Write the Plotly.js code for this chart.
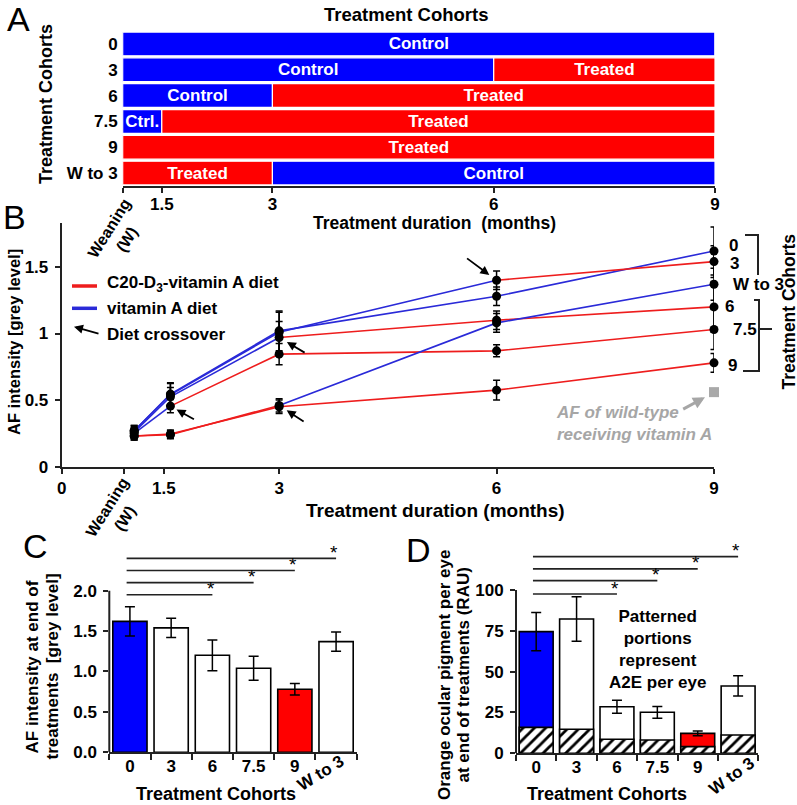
<!DOCTYPE html>
<html><head><meta charset="utf-8">
<script src="https://cdn.plot.ly/plotly-3.0.1.min.js"></script>
<style>html,body{margin:0;padding:0;background:#fff}#chart{width:797px;height:805px}</style>
</head><body><div id="chart"></div>
<script>
// ================= DATA =================
const cohorts = ['0', '3', '6', '7.5', '9', 'W to 3'];

// Panel A – diet schedule (treatment duration, months)
const weaningMonth = 0.97;
const endMonth = 9;
const switchMonth = [9, 6, 3, 1.5, 9, 3];            // month where the first diet ends
const firstDiet = ['Control', 'Control', 'Control', 'Control', 'Treated', 'Treated'];
const firstLabel = ['Control', 'Control', 'Control', 'Ctrl.', 'Treated', 'Treated'];
const secondLabel = ['', 'Treated', 'Treated', 'Treated', '', 'Control'];

// Panel B – AF intensity over time
const timePoints = [1.0, 1.5, 3, 6, 9];
const afCohort0  = [0.27, 0.545, 1.02, 1.28, 1.62];
const afCohort3  = [0.27, 0.54, 1.01, 1.40, 1.54];
const afCohort6  = [0.26, 0.525, 0.97, 1.10, 1.20];
const afCohort75 = [0.25, 0.455, 0.845, 0.87, 1.03];
const afCohort9  = [0.23, 0.245, 0.45, 0.575, 0.78];
const afCohortW3 = [0.23, 0.24, 0.46, 1.08, 1.37];
const errCohort0  = [0.04, 0.08, 0.15, 0.07, 0.18];
const errCohort3  = [0.04, 0.09, 0.15, 0.07, 0.12];
const errCohort6  = [0.04, 0.07, 0.12, 0.07, 0.19];
const errCohort75 = [0.04, 0.05, 0.08, 0.045, 0.15];
const errCohort9  = [0.03, 0.03, 0.05, 0.075, 0.07];
const errCohortW3 = [0.03, 0.03, 0.05, 0.07, 0.12];
const wildTypeAF = 0.56;

// Panel C – AF at end of treatments
const afEnd    = [1.62, 1.54, 1.20, 1.04, 0.78, 1.37];
const afEndErr = [0.18, 0.12, 0.19, 0.15, 0.07, 0.12];

// Panel D – orange ocular pigment per eye
const pigmentTotal = [74.5, 82.2, 28.5, 25.1, 12.2, 41.2];
const pigmentErr   = [11.7, 13.6, 4.0, 3.6, 1.4, 6.2];
const a2ePerEye    = [15.9, 14.7, 8.6, 8.1, 4.1, 11.2];

const sigComparisons = [[0, 2], [0, 3], [0, 4], [0, 5]];

// ================= STYLE =================
const W = 797, H = 805;
const FONT = 'Liberation Sans, Arial, Helvetica, sans-serif';
const BLUE = '#0000ff', RED = '#ff0000';
const LBLUE = '#2a2ad8', LRED = '#ee1d1d';
const AX = '#222';
const fx = v => v / W, fy = v => 1 - v / H;
const bold = (s) => ({family: FONT, size: s, color: '#000', weight: 'bold'});
const dietFill = d => d === 'Control' ? BLUE : RED;
const dietLine = d => d === 'Control' ? LBLUE : LRED;
const otherDiet = d => d === 'Control' ? 'Treated' : 'Control';
const idx = cohorts.map((c, i) => i);

const traces = [];

// ---- Panel A bars
traces.push({
  type: 'bar', orientation: 'h', xaxis: 'x', yaxis: 'y',
  y: cohorts, base: cohorts.map(() => weaningMonth),
  x: switchMonth.map(s => s - weaningMonth),
  marker: {color: firstDiet.map(dietFill), line: {color: '#fff', width: 1.2}},
  text: firstLabel, textposition: 'inside', insidetextanchor: 'middle',
  constraintext: 'none', textangle: 0,
  textfont: {family: FONT, size: 17, color: '#fff', weight: 'bold'},
  width: 0.92, hoverinfo: 'skip', showlegend: false
});
traces.push({
  type: 'bar', orientation: 'h', xaxis: 'x', yaxis: 'y',
  y: cohorts, base: switchMonth,
  x: switchMonth.map(s => endMonth - s),
  marker: {color: firstDiet.map(d => dietFill(otherDiet(d))), line: {color: '#fff', width: 1.2}},
  text: secondLabel, textposition: 'inside', insidetextanchor: 'middle',
  constraintext: 'none', textangle: 0,
  textfont: {family: FONT, size: 17, color: '#fff', weight: 'bold'},
  width: 0.92, hoverinfo: 'skip', showlegend: false
});

// ---- Panel B lines
const afSeries = [afCohort0, afCohort3, afCohort6, afCohort75, afCohort9, afCohortW3];
const afErrors = [errCohort0, errCohort3, errCohort6, errCohort75, errCohort9, errCohortW3];
afSeries.forEach((vals, c) => {
  const k = timePoints.indexOf(switchMonth[c]);
  traces.push({type: 'scatter', mode: 'lines', xaxis: 'x2', yaxis: 'y2',
    x: timePoints.slice(0, k + 1), y: vals.slice(0, k + 1),
    line: {color: dietLine(firstDiet[c]), width: 1.6}, hoverinfo: 'skip', showlegend: false, cliponaxis: false});
  if (k < timePoints.length - 1) {
    traces.push({type: 'scatter', mode: 'lines', xaxis: 'x2', yaxis: 'y2',
      x: timePoints.slice(k), y: vals.slice(k),
      line: {color: dietLine(otherDiet(firstDiet[c])), width: 1.6}, hoverinfo: 'skip', showlegend: false, cliponaxis: false});
  }
});
afSeries.forEach((vals, c) => {
  traces.push({type: 'scatter', mode: 'markers', xaxis: 'x2', yaxis: 'y2',
    x: timePoints, y: vals,
    marker: {color: '#000', size: 9, symbol: 'circle'},
    error_y: {type: 'data', array: afErrors[c], color: '#000', thickness: 1.5, width: 3.5},
    hoverinfo: 'skip', showlegend: false, cliponaxis: false});
});
traces.push({type: 'scatter', mode: 'markers', xaxis: 'x2', yaxis: 'y2',
  x: [endMonth], y: [wildTypeAF], marker: {color: '#a9a9a9', size: 10, symbol: 'square'},
  hoverinfo: 'skip', showlegend: false, cliponaxis: false});

// ---- Panel C bars
traces.push({type: 'bar', xaxis: 'x3', yaxis: 'y3', x: idx, y: afEnd, width: 0.83,
  marker: {color: idx.map(i => i === 0 ? BLUE : (i === 4 ? RED : '#fff')), line: {color: '#000', width: 1.6}},
  error_y: {type: 'data', array: afEndErr, color: '#000', thickness: 1.5, width: 5},
  hoverinfo: 'skip', showlegend: false});

// ---- Panel D bars
traces.push({type: 'bar', xaxis: 'x4', yaxis: 'y4', x: idx, y: pigmentTotal, width: 0.84,
  marker: {color: idx.map(i => i === 0 ? BLUE : (i === 4 ? RED : '#fff')), line: {color: '#000', width: 1.6}},
  error_y: {type: 'data', array: pigmentErr, color: '#000', thickness: 1.5, width: 5},
  hoverinfo: 'skip', showlegend: false});
traces.push({type: 'bar', xaxis: 'x4', yaxis: 'y4', x: idx, y: a2ePerEye, width: 0.84,
  marker: {color: '#fff', line: {color: '#000', width: 1.6},
    pattern: {shape: '/', fgcolor: '#000', bgcolor: '#fff', size: 8, solidity: 0.35}},
  hoverinfo: 'skip', showlegend: false});

// ================= LAYOUT =================
const shapes = [];
const annotations = [];
const ann = (text, x, y, o = {}) => annotations.push(Object.assign({
  text, x: fx(x), y: fy(y), xref: 'paper', yref: 'paper', showarrow: false,
  xanchor: 'center', yanchor: 'middle', font: bold(17)}, o));
const hline = (x0, y0, x1, y1, col = AX, w = 2) => shapes.push({type: 'line', xref: 'paper', yref: 'paper',
  x0: fx(x0), y0: fy(y0), x1: fx(x1), y1: fy(y1), line: {color: col, width: w}});

// panel letters
[['A', 18, 19], ['B', 15, 217], ['C', 35, 546], ['D', 418, 550]].forEach(([t, x, y]) =>
  ann(t, x, y, {font: {family: FONT, size: 34, color: '#000'}}));

// Panel A texts
ann('Treatment Cohorts', 406, 14, {font: bold(18.5)});
ann('Treatment Cohorts', 46, 104, {textangle: -90, font: bold(18)});
ann('Treatment duration  (months)', 434, 223, {font: bold(17.5)});
ann('Weaning<br>(W)', 118, 234, {textangle: -58, font: bold(16)});

// Panel B texts
ann('AF intensity [grey level]', 14, 342, {textangle: -90, font: bold(16.5)});
ann('Treatment duration (months)', 436, 510, {font: bold(19)});
ann('Weaning<br>(W)', 116, 513, {textangle: -58, font: bold(16)});
// legend
hline(72, 286, 97, 286, LRED, 3.5);
hline(72, 308.3, 97, 308.3, LBLUE, 3.5);
ann('C20-D<sub>3</sub>-vitamin A diet', 105, 283.5, {xanchor: 'left'});
ann('vitamin A diet', 105, 308.3, {xanchor: 'left'});
ann('Diet crossover', 105, 334, {xanchor: 'left'});
annotations.push({x: fx(74), y: fy(326.7), xref: 'paper', yref: 'paper', text: '', showarrow: true,
  ax: 26, ay: 7.3, arrowhead: 2, arrowsize: 1, arrowwidth: 1.8, arrowcolor: '#000'});
// crossover arrows at data points
const crossArrow = [null, [-31, -23, 9], [27, 16, 9], [25, 14, 7], null, [26, 17, 9]];
crossArrow.forEach((a, c) => {
  if (!a) return;
  const k = timePoints.indexOf(switchMonth[c]);
  annotations.push({x: timePoints[k], y: afSeries[c][k], xref: 'x2', yref: 'y2', text: '', showarrow: true,
    ax: a[0], ay: a[1], standoff: a[2], arrowhead: 2, arrowsize: 1, arrowwidth: 1.8, arrowcolor: '#000'});
});
// right-hand cohort labels at the 9-month points
const endLabelShift = [[14, 5], [15, -2], [10, 0], [18, 0], [13, -3], [18, 0]];
cohorts.forEach((c, i) => {
  annotations.push({text: c, x: endMonth, y: afSeries[i][4], xref: 'x2', yref: 'y2', showarrow: false,
    xanchor: 'left', yanchor: 'middle', xshift: endLabelShift[i][0], yshift: endLabelShift[i][1],
    borderpad: 0, font: bold(17)});
});
// brackets
shapes.push({type: 'path', xref: 'paper', yref: 'paper', line: {color: AX, width: 2},
  path: `M${fx(745)},${fy(235)} L${fx(758)},${fy(235)} L${fx(758)},${fy(275)}`});
shapes.push({type: 'path', xref: 'paper', yref: 'paper', line: {color: AX, width: 2},
  path: `M${fx(754)},${fy(300)} L${fx(759)},${fy(300)} L${fx(759)},${fy(371)} L${fx(743)},${fy(371)}`});
hline(759, 329, 772, 329, AX, 2);
ann('Treatment Cohorts', 788.5, 312, {textangle: -90, font: bold(17.5)});
// wild-type note
ann('AF of wild-type<br>receiving vitamin A', 554, 423.5,
  {xanchor: 'left', align: 'left', font: {family: FONT, size: 17, color: '#a6a6a6', weight: 'bold', style: 'italic'}});
annotations.push({x: fx(705), y: fy(397.3), xref: 'paper', yref: 'paper', text: '', showarrow: true,
  ax: -23.3, ay: 12.7, arrowhead: 2, arrowsize: 0.8, arrowwidth: 3, arrowcolor: '#a6a6a6'});

// Panel C texts
ann('AF intensity at end of', 31.5, 667, {textangle: -90, font: bold(17)});
ann('treatments  [grey level]', 51.5, 667, {textangle: -90, font: bold(17)});
ann('Treatment Cohorts', 216, 794, {font: bold(18)});
ann(cohorts[5], 320, 773, {textangle: -32, font: bold(17)});

// Panel D texts
ann('Orange ocular pigment per eye', 444, 675, {textangle: -90, font: bold(17)});
ann('at end of treatments (RAU)', 462.5, 675, {textangle: -90, font: bold(17)});
ann('Treatment Cohorts', 607, 794, {font: bold(18)});
ann(cohorts[5], 731, 776, {textangle: -36, font: bold(17)});
ann('Patterned<br>portions<br>represent<br>A2E per eye', 657, 649, {font: bold(17)});

// significance lines C & D
const sigC = [1.95, 2.10, 2.25, 2.40];
const sigD = [97.5, 105.7, 112.9, 120.4];
sigComparisons.forEach(([a, b], j) => {
  [['x3', 'y3', sigC[j]], ['x4', 'y4', sigD[j]]].forEach(([xr, yr, h]) => {
    shapes.push({type: 'line', xref: xr, yref: yr, x0: a - 0.08, x1: b, y0: h, y1: h, line: {color: AX, width: 1.6}});
    annotations.push({text: '*', x: b - 0.04, y: h, xref: xr, yref: yr, showarrow: false, yshift: 6,
      font: {family: FONT, size: 19, color: '#000'}});
  });
});
// y-axis lines for C & D (limited to tick range)
shapes.push({type: 'line', xref: 'x3 domain', yref: 'y3', x0: 0, x1: 0, y0: 0, y1: 2, line: {color: AX, width: 2}});
shapes.push({type: 'line', xref: 'x4 domain', yref: 'y4', x0: 0, x1: 0, y0: 0, y1: 100, line: {color: AX, width: 2}});

const baseAx = {showgrid: false, zeroline: false, linecolor: AX, linewidth: 2, tickcolor: AX, tickwidth: 2,
  tickfont: bold(17), fixedrange: true};
const boundaries = [-0.5, 0.5, 1.5, 2.5, 3.5, 4.5, 5.5];

const layout = {
  width: W, height: H, margin: {l: 0, r: 0, t: 0, b: 0},
  paper_bgcolor: '#fff', plot_bgcolor: 'rgba(0,0,0,0)',
  barmode: 'overlay', bargap: 0, showlegend: false,
  font: {family: FONT, color: '#000'},
  xaxis: Object.assign({}, baseAx, {domain: [fx(122.7), fx(715)], anchor: 'y', range: [weaningMonth, endMonth],
    showline: true, ticks: 'outside', ticklen: 5, tickvals: [weaningMonth, 1.5, 3, 6, 9],
    ticktext: ['', '1.5', '3', '6', '9'], ticklabelstandoff: -3}),
  yaxis: Object.assign({}, baseAx, {domain: [fy(186), fy(31)], anchor: 'x', type: 'category',
    autorange: 'reversed', showline: false, ticks: '', ticklabelstandoff: 4}),
  xaxis2: Object.assign({}, baseAx, {domain: [fx(61.7), fx(714)], anchor: 'y2', range: [0, 9],
    showline: true, ticks: 'outside', ticklen: 5, tickvals: [0, 0.86, 1.41, 3, 6, 9],
    ticktext: ['0', '', '1.5', '3', '6', '9'], ticklabelstandoff: 0}),
  yaxis2: Object.assign({}, baseAx, {domain: [fy(466.7), fy(223)], anchor: 'x2', range: [0, 1.83],
    showline: true, ticks: 'outside', ticklen: 5, tickvals: [0, 0.5, 1, 1.5],
    ticktext: ['0', '0.5', '1', '1.5'], ticklabelstandoff: 3}),
  xaxis3: Object.assign({}, baseAx, {domain: [fx(109.3), fx(356.7)], anchor: 'y3', range: [-0.5, 5.5],
    showline: true, ticks: '', tickvals: [0, 1, 2, 3, 4], ticktext: cohorts.slice(0, 5), ticklabelstandoff: -3,
    minor: {tickmode: 'array', tickvals: boundaries, ticks: 'outside', ticklen: 6, tickwidth: 2, tickcolor: AX}}),
  yaxis3: Object.assign({}, baseAx, {domain: [fy(752.3), fy(554.3)], anchor: 'x3', range: [0, 2.45],
    showline: false, ticks: 'outside', ticklen: 5, tickvals: [0, 0.5, 1, 1.5, 2],
    ticktext: ['0.0', '0.5', '1.0', '1.5', '2.0'], ticklabelstandoff: 3}),
  xaxis4: Object.assign({}, baseAx, {domain: [fx(516), fx(758.3)], anchor: 'y4', range: [-0.5, 5.5],
    showline: true, ticks: '', tickvals: [0, 1, 2, 3, 4], ticktext: cohorts.slice(0, 5), ticklabelstandoff: -3,
    minor: {tickmode: 'array', tickvals: boundaries, ticks: 'outside', ticklen: 6, tickwidth: 2, tickcolor: AX}}),
  yaxis4: Object.assign({}, baseAx, {domain: [fy(753.3), fy(554)], anchor: 'x4', range: [0, 122],
    showline: false, ticks: 'outside', ticklen: 5, tickvals: [0, 25, 50, 75, 100], ticklabelstandoff: 3}),
  shapes, annotations
};

Plotly.newPlot('chart', traces, layout, {displayModeBar: false, staticPlot: true});
</script></body></html>
